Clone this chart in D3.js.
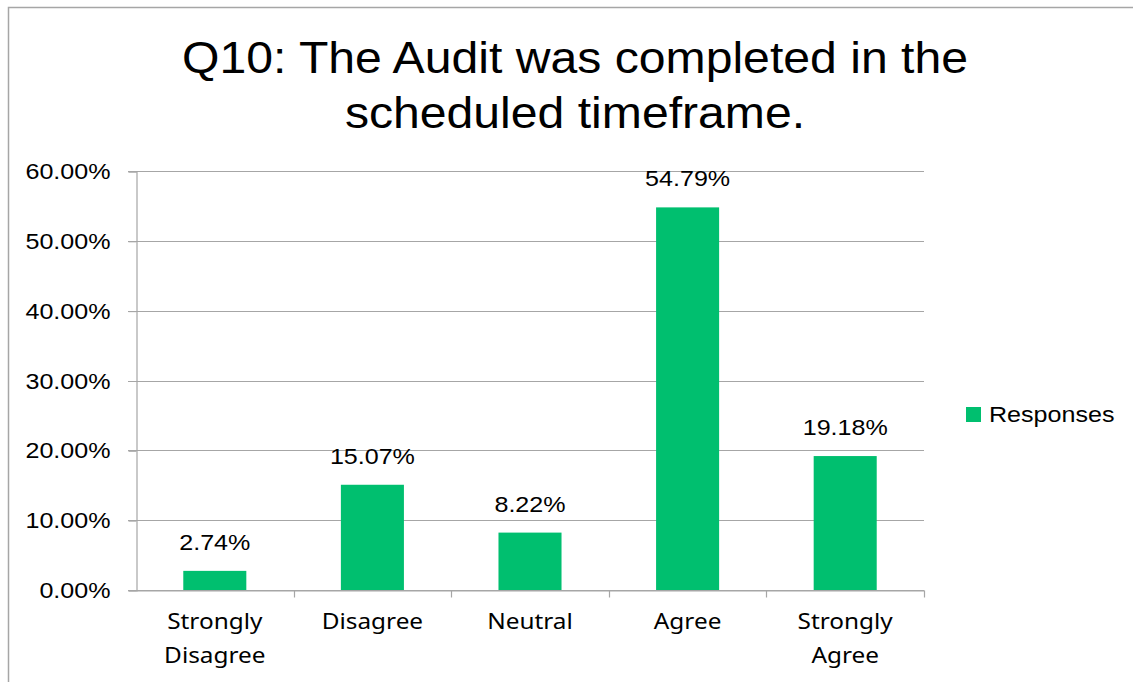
<!DOCTYPE html>
<html>
<head>
<meta charset="utf-8">
<script src="https://cdn.jsdelivr.net/npm/d3@7"></script>
<style>
  html, body { margin: 0; padding: 0; background: #fff; overflow: hidden; }
  svg { display: block; }
</style>
</head>
<body>
<script>
// chart data
const categories = ['Strongly Disagree', 'Disagree', 'Neutral', 'Agree', 'Strongly Agree']
const responses = [0.0274, 0.1507, 0.0822, 0.5479, 0.1918]
const yTicks = [0, 0.1, 0.2, 0.3, 0.4, 0.5, 0.6]
const titleLines = ['Q10: The Audit was completed in the', 'scheduled timeframe.']
const seriesName = 'Responses'

const SVG_WIDTH = 1133
const SVG_HEIGHT = 682
const PLOT = { LEFT: 136, RIGHT: 924, TOP: 171, BOTTOM: 590 }
const GREEN = '#00bf6f'
const GRID = '#a6a6a6'
const ARIAL = '"Liberation Sans", Arial, sans-serif'
const CAT_FONT = '"Noto Sans", "Open Sans", sans-serif'
// the source fonts run a bit wider than ours, stretch text horizontally
const SX_TITLE = 1.07
const SX_LABEL = 1.14
const SX_CAT = 1.16

const svg = d3.select('body')
  .append('svg')
  .attr('width', SVG_WIDTH)
  .attr('height', SVG_HEIGHT)

// outer frame
svg.append('rect')
  .attr('x', 8.5)
  .attr('y', 7.5)
  .attr('width', SVG_WIDTH + 40)
  .attr('height', SVG_HEIGHT + 40)
  .attr('fill', 'none')
  .attr('stroke', GRID)
  .attr('stroke-width', 1.5)

// title
svg.append('text')
  .attr('transform', `translate(575, 73) scale(${SX_TITLE}, 1)`)
  .attr('text-anchor', 'middle')
  .attr('font-family', ARIAL)
  .attr('font-size', '45px')
  .attr('fill', '#000')
  .selectAll('tspan')
  .data(titleLines)
  .enter()
    .append('tspan')
    .attr('x', 0)
    .attr('y', (d, i) => i * 55)
    .text(d => d)

// scales
const scaleX = d3.scaleBand()
  .domain(categories)
  .range([PLOT.LEFT, PLOT.RIGHT])
  .padding(0)

const scaleY = d3.scaleLinear()
  .domain([0, 0.6])
  .range([PLOT.BOTTOM, PLOT.TOP])

const pct = d3.format('.2%')

// gridlines
svg.append('g')
  .attr('class', 'grid')
  .selectAll('line')
  .data(yTicks)
  .enter()
    .append('line')
    .attr('x1', PLOT.LEFT - 8)
    .attr('x2', PLOT.RIGHT)
    .attr('y1', d => Math.round(scaleY(d)) + 0.5)
    .attr('y2', d => Math.round(scaleY(d)) + 0.5)
    .attr('stroke', GRID)
    .attr('stroke-width', 1.2)

// y axis
const yAxis = d3.axisLeft(scaleY)
  .tickValues(yTicks)
  .tickFormat(pct)
  .tickSize(8)
  .tickPadding(18)

svg.append('g')
    .attr('transform', `translate(${PLOT.LEFT + 0.5}, 0.5)`)
    .call(yAxis)
    .call(g => g.select('.domain').attr('stroke', GRID).attr('stroke-width', 1.2))
    .call(g => g.selectAll('.tick line').attr('stroke', GRID))
  .selectAll('text')
    .attr('x', -26 / SX_LABEL)
    .attr('transform', `scale(${SX_LABEL}, 1)`)
    .attr('font-family', ARIAL)
    .attr('font-size', '22px')
    .attr('fill', '#000')

// x axis
const xAxis = d3.axisBottom(scaleX).tickSize(0).tickFormat('')
const xg = svg.append('g')
  .attr('transform', `translate(0, ${PLOT.BOTTOM + 0.5})`)
  .call(xAxis)
xg.select('.domain').attr('stroke', GRID).attr('stroke-width', 1.2)

// category boundary ticks
xg.selectAll('.boundary')
  .data(categories)
  .enter()
    .append('line')
    .attr('x1', d => Math.round(scaleX(d) + scaleX.bandwidth()) + 0.5)
    .attr('x2', d => Math.round(scaleX(d) + scaleX.bandwidth()) + 0.5)
    .attr('y1', 0)
    .attr('y2', 7)
    .attr('stroke', GRID)
    .attr('stroke-width', 1.2)

// category labels (wrapped)
xg.selectAll('.cat')
  .data(categories)
  .enter()
    .append('text')
    .attr('transform', d => `translate(${scaleX(d) + scaleX.bandwidth() / 2}, 0) scale(${SX_CAT}, 1)`)
    .attr('font-family', CAT_FONT)
    .attr('font-size', '21px')
    .attr('fill', '#000')
    .attr('text-anchor', 'middle')
    .each(function(d) {
      d3.select(this).selectAll('tspan')
        .data(d.split(' '))
        .enter()
          .append('tspan')
          .attr('x', 0)
          .attr('y', (w, i) => 39 + i * 34)
          .text(w => w)
    })

// bars
const barW = scaleX.bandwidth() * 0.4
svg.append('g')
  .selectAll('rect')
  .data(responses)
  .enter()
    .append('rect')
    .attr('x', (d, i) => scaleX(categories[i]) + (scaleX.bandwidth() - barW) / 2)
    .attr('y', d => scaleY(d))
    .attr('width', barW)
    .attr('height', d => PLOT.BOTTOM - scaleY(d))
    .attr('fill', GREEN)

// data labels
svg.append('g')
  .selectAll('text')
  .data(responses)
  .enter()
    .append('text')
    .attr('transform', (d, i) =>
      `translate(${scaleX(categories[i]) + scaleX.bandwidth() / 2}, ${scaleY(d) - 21}) scale(${SX_LABEL}, 1)`)
    .attr('text-anchor', 'middle')
    .attr('font-family', ARIAL)
    .attr('font-size', '22px')
    .attr('fill', '#000')
    .text(d => pct(d))

// legend
const legend = svg.append('g').attr('transform', 'translate(966, 407)')
legend.append('rect')
  .attr('width', 15)
  .attr('height', 15)
  .attr('fill', GREEN)
legend.append('text')
  .attr('transform', `translate(23, 15) scale(${SX_LABEL}, 1)`)
  .attr('font-family', ARIAL)
  .attr('font-size', '22px')
  .attr('fill', '#000')
  .text(seriesName)
</script>
</body>
</html>
